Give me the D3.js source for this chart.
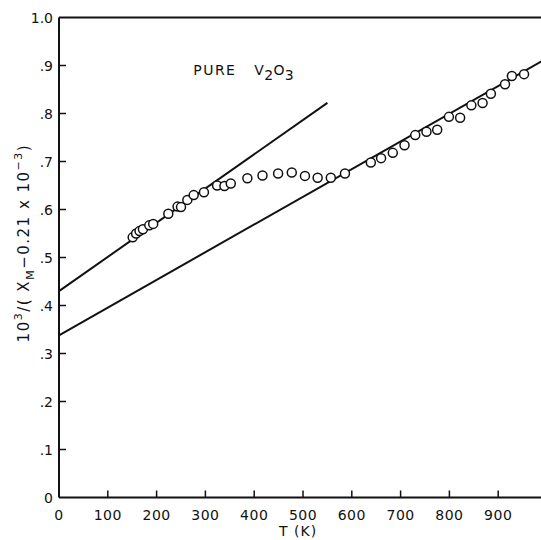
<!DOCTYPE html>
<html>
<head>
<meta charset="utf-8">
<script src="https://cdn.jsdelivr.net/npm/d3@7"></script>
<style>
  body { margin: 0; background: #fff; }
  text { font-family: "DejaVu Sans", sans-serif; fill: #111; }
</style>
</head>
<body>
<svg id="chart"></svg>
<script>
// measured points, T in kelvin and 10^3/(X_M - 0.21e-3)
var temps = [151, 158, 165, 172, 185, 193, 224, 243, 250, 263, 276, 297, 324, 339, 352,
             386, 417, 449, 477, 504, 530, 557, 586, 639, 660, 684, 708, 730, 753, 775,
             799, 822, 845, 868, 885, 914, 928, 953];
var invChi = [0.542, 0.550, 0.555, 0.559, 0.567, 0.570, 0.591, 0.606, 0.605, 0.620, 0.630, 0.636, 0.650, 0.649, 0.654,
              0.665, 0.671, 0.675, 0.677, 0.670, 0.666, 0.666, 0.675, 0.698, 0.707, 0.718, 0.734, 0.755, 0.762, 0.766,
              0.793, 0.791, 0.817, 0.822, 0.841, 0.861, 0.878, 0.882];

// the two straight Curie-Weiss fits
var lowFit = [[0, 0.43], [550, 0.822]];
var highFit = [[0, 0.338], [1000, 0.915]];

var xTicks = [0, 100, 200, 300, 400, 500, 600, 700, 800, 900];
var yTicks = [0, 0.1, 0.2, 0.3, 0.4, 0.5, 0.6, 0.7, 0.8, 0.9, 1.0];
var yTickLabels = ["0", ".1", ".2", ".3", ".4", ".5", ".6", ".7", ".8", ".9", "1.0"];

var width = 541, height = 540;

var svg = d3.select('svg#chart')
    .attr('width', width)
    .attr('height', height);

var x = d3.scaleLinear().domain([0, 1000]).range([59, 547]);
var y = d3.scaleLinear().domain([0, 1]).range([497.5, 17.5]);

// frame: left, bottom, top
svg.append('line')
    .attr('x1', x(0)).attr('x2', x(0))
    .attr('y1', y(0)).attr('y2', y(1))
    .attr('stroke', '#111').attr('stroke-width', 2);
svg.append('line')
    .attr('x1', x(0)).attr('x2', x(1000))
    .attr('y1', y(0)).attr('y2', y(0))
    .attr('stroke', '#111').attr('stroke-width', 2);
svg.append('line')
    .attr('x1', x(0)).attr('x2', x(1000))
    .attr('y1', y(1)).attr('y2', y(1))
    .attr('stroke', '#111').attr('stroke-width', 2);

// inward ticks
svg.selectAll('.xtick')
    .data(xTicks.slice(1))
    .enter()
    .append('line')
    .attr('x1', function (d) { return x(d); })
    .attr('x2', function (d) { return x(d); })
    .attr('y1', y(0))
    .attr('y2', y(0) - 7)
    .attr('stroke', '#111').attr('stroke-width', 1.5);

svg.selectAll('.ytick')
    .data(yTicks.slice(1, 10))
    .enter()
    .append('line')
    .attr('x1', x(0))
    .attr('x2', x(0) + 7)
    .attr('y1', function (d) { return y(d); })
    .attr('y2', function (d) { return y(d); })
    .attr('stroke', '#111').attr('stroke-width', 1.5);

svg.selectAll('.xlab')
    .data(xTicks)
    .enter()
    .append('text')
    .attr('x', function (d) { return x(d); })
    .attr('y', 520)
    .attr('text-anchor', 'middle')
    .style('font-size', '14px')
    .style('letter-spacing', '0.5px')
    .text(function (d) { return d; });

svg.selectAll('.ylab')
    .data(yTicks)
    .enter()
    .append('text')
    .attr('x', 53)
    .attr('y', function (d) { return y(d) + 5; })
    .attr('text-anchor', 'end')
    .style('font-size', '14px')
    .text(function (d, i) { return yTickLabels[i]; });

// axis titles
svg.append('text')
    .attr('x', x(490))
    .attr('y', 536)
    .attr('text-anchor', 'middle')
    .style('font-size', '14px')
    .style('letter-spacing', '1px')
    .text('T (K)');

var ylab = svg.append('text')
    .attr('transform', 'translate(29,' + y(0.53) + ') rotate(-90)')
    .attr('text-anchor', 'middle')
    .style('font-size', '15px')
    .style('letter-spacing', '1.5px');
ylab.append('tspan').text('10');
ylab.append('tspan').attr('dy', -7).style('font-size', '11px').text('3');
ylab.append('tspan').attr('dy', 7).text('/( X');
ylab.append('tspan').attr('dy', 5).style('font-size', '11px').text('M');
ylab.append('tspan').attr('dy', -5).text('\u22120.21 x 10');
ylab.append('tspan').attr('dy', -7).style('font-size', '11px').text('\u22123');
ylab.append('tspan').attr('dy', 7).text(')');

var title = svg.append('text')
    .attr('x', x(275))
    .attr('y', 75)
    .style('font-size', '14px')
    .style('letter-spacing', '1.5px')
    .attr('xml:space', 'preserve');
title.append('tspan').text('PURE   ');
title.append('tspan').style('letter-spacing', '0.3px').text('V');
title.append('tspan').style('letter-spacing', '0.3px').attr('dy', 5).text('2');
title.append('tspan').style('letter-spacing', '0.3px').attr('dy', -5).text('O');
title.append('tspan').style('letter-spacing', '0.3px').attr('dy', 5).text('3');

// fit lines
var line = d3.line()
    .x(function (d) { return x(d[0]); })
    .y(function (d) { return y(d[1]); });

svg.append('path')
    .datum(lowFit)
    .attr('d', line)
    .attr('fill', 'none')
    .attr('stroke', '#111')
    .attr('stroke-width', 2);
svg.append('path')
    .datum(highFit)
    .attr('d', line)
    .attr('fill', 'none')
    .attr('stroke', '#111')
    .attr('stroke-width', 2);

// data circles
svg.selectAll('circle')
    .data(temps)
    .enter()
    .append('circle')
    .attr('cx', function (d) { return x(d); })
    .attr('cy', function (d, i) { return y(invChi[i]); })
    .attr('r', 4.5)
    .attr('fill', '#fff')
    .attr('stroke', '#111')
    .attr('stroke-width', 1.5);
</script>
</body>
</html>
